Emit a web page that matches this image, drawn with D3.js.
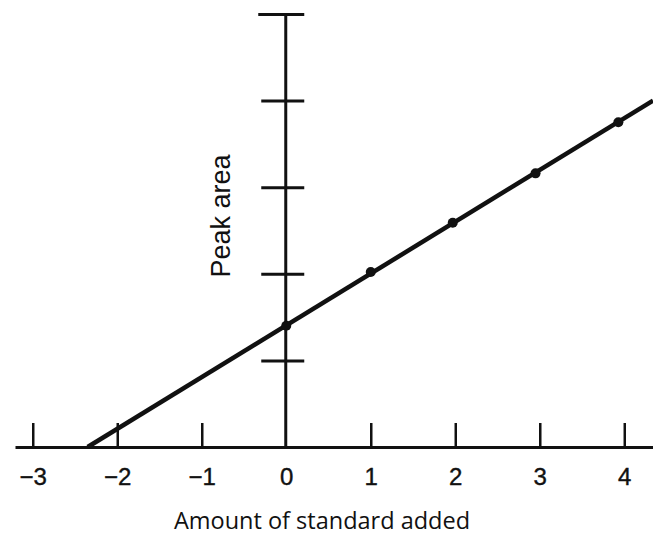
<!DOCTYPE html>
<html>
<head>
<meta charset="utf-8">
<script src="https://cdn.jsdelivr.net/npm/d3@7"></script>
<style>
  html, body { margin: 0; padding: 0; background: #fff; }
  svg { display: block; }
</style>
</head>
<body>
<svg id="chart" width="653" height="537"></svg>
<script>
// ---- data ----
const xTickValues = [-3, -2, -1, 0, 1, 2, 3, 4];
const xTickLabels = ["\u22123", "\u22122", "\u22121", "0", "1", "2", "3", "4"];
const yTickValues = [1, 2, 3, 4, 5];
const pointX = [0, 1, 1.97, 2.95, 3.93];
const pointY = [1.40, 2.02, 2.59, 3.16, 3.75];
const fitX = [-2.35, 4.34];
const fitY = [0, 4.0];
const xTitle = "Amount of standard added";
const yTitle = "Peak area";

// ---- layout ----
const svg = d3.select("#chart");
const ink = "#111";

const x = d3.scaleLinear().domain([-3.21, 4.34]).range([15, 653]);
const y = d3.scaleLinear().domain([0, 5]).range([447, 14]);

// x axis
const xAxis = d3.axisBottom(x)
  .tickValues(xTickValues)
  .tickFormat((d, i) => xTickLabels[i])
  .tickSizeInner(-24)
  .tickSizeOuter(0)
  .tickPadding(21);

const gx = svg.append("g")
  .attr("transform", `translate(0,${y(0)})`)
  .call(xAxis);
gx.select(".domain").attr("stroke", ink).attr("stroke-width", 3);
gx.selectAll(".tick line").attr("stroke", ink).attr("stroke-width", 2.5)
  .filter(d => d === 0).remove();
gx.selectAll(".tick text")
  .attr("fill", ink)
  .attr("stroke", ink)
  .attr("stroke-width", 0.4)
  .style("font-family", "'Liberation Sans', Arial, sans-serif")
  .style("font-size", "24px");

// y axis (ticks cross the axis)
const yAxis = d3.axisLeft(y)
  .tickValues(yTickValues)
  .tickFormat("")
  .tickSizeInner(24)
  .tickSizeOuter(0);
const gy = svg.append("g")
  .attr("transform", `translate(${x(0) - 1},0)`)
  .call(yAxis);
gy.select(".domain").attr("stroke", ink).attr("stroke-width", 3);
gy.selectAll(".tick line")
  .attr("stroke", ink).attr("stroke-width", 3)
  .attr("x2", d => d === 5 ? -27 : -24)
  .attr("x1", 19);

// fitted line
const line = d3.line().x(d => x(d[0])).y(d => y(d[1]));
svg.append("path")
  .datum(d3.zip(fitX, fitY))
  .attr("d", line)
  .attr("fill", "none")
  .attr("stroke", ink)
  .attr("stroke-width", 4.5);

// data points
svg.append("g").selectAll("circle")
  .data(d3.zip(pointX, pointY))
  .join("circle")
  .attr("cx", d => x(d[0]))
  .attr("cy", d => y(d[1]))
  .attr("r", 5)
  .attr("fill", ink);

// titles
svg.append("text")
  .attr("x", 322)
  .attr("y", 529)
  .attr("text-anchor", "middle")
  .attr("fill", ink)
  .style("font-family", "'Open Sans', 'Noto Sans', sans-serif")
  .style("font-size", "23.5px")
  .text(xTitle);

svg.append("text")
  .attr("transform", "translate(230,216) rotate(-90)")
  .attr("text-anchor", "middle")
  .attr("fill", ink)
  .style("font-family", "'Liberation Sans', Arial, sans-serif")
  .style("font-size", "27px")
  .text(yTitle);
</script>
</body>
</html>
